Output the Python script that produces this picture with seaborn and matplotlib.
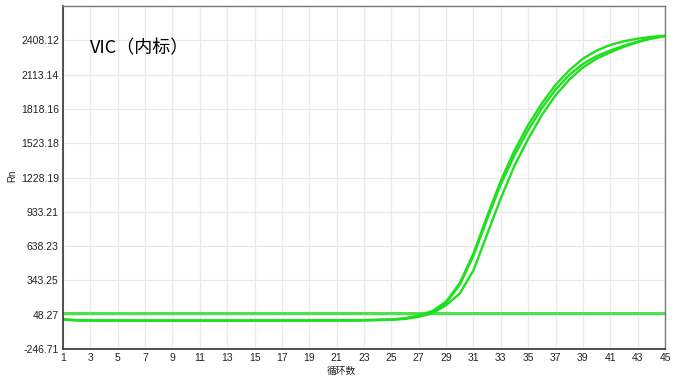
import numpy as np
import pandas as pd
import matplotlib
matplotlib.use("Agg")
import matplotlib.pyplot as plt
import seaborn as sns

cycles = list(range(1, 46))

# Fluorescence (Rn) values, cycles 1..45
well_a = [8, 2, 0, -1, -1, -2, -2, -2, -2, -2, -2, -2, -2, -2, -2, -1, -1, -1, -1, 0, 0, 1,
          2, 4, 8, 18, 40, 80, 160, 320, 575, 895, 1200, 1460, 1680, 1865, 2025, 2150, 2250,
          2320, 2368, 2400, 2422, 2438, 2448]
well_b = [6, 1, -1, -2, -2, -2, -3, -3, -3, -3, -3, -3, -3, -3, -2, -2, -2, -2, -2, -1, -1, 0,
          1, 3, 6, 15, 38, 75, 150, 305, 555, 870, 1170, 1420, 1635, 1825, 1985, 2110, 2205,
          2272, 2320, 2362, 2397, 2425, 2445]
well_c = [5, 0, -2, -3, -3, -3, -3, -3, -3, -3, -3, -3, -3, -3, -3, -3, -2, -2, -2, -2, -1, -1,
          0, 2, 5, 12, 30, 60, 130, 230, 430, 740, 1050, 1330, 1560, 1765, 1935, 2070, 2175,
          2250, 2305, 2352, 2392, 2423, 2445]
threshold = 60.0

ytick_values = [-246.71, 48.27, 343.25, 638.23, 933.21, 1228.19, 1523.18, 1818.16, 2113.14, 2408.12]
ytick_labels = ["-246.71", "48.27", "343.25", "638.23", "933.21", "1228.19", "1523.18",
                "1818.16", "2113.14", "2408.12"]
xtick_values = list(range(1, 46, 2))
y_top = 2703.09

df = pd.DataFrame({
    "cycle": cycles * 3,
    "rn": well_a + well_b + well_c,
    "well": ["A"] * 45 + ["B"] * 45 + ["C"] * 45,
})

sns.set_theme(style="white")
plt.rcParams["font.family"] = ["Liberation Sans", "DejaVu Sans"]

fig = plt.figure(figsize=(6.74, 3.80), dpi=100)
ax = fig.add_axes([63 / 674, 1 - 349 / 380, (665 - 63) / 674, (349 - 6) / 380])

green = "#1fe01f"
sns.lineplot(data=df, x="cycle", y="rn", units="well", estimator=None,
             color=green, linewidth=1.7, ax=ax, legend=False)
ax.axhline(threshold, color="#4ce24c", linewidth=2.2, zorder=1.5)

ax.set_xlim(1, 45)
ax.set_ylim(-246.71, y_top)
ax.set_xticks(xtick_values)
ax.set_xticklabels([str(v) for v in xtick_values])
ax.set_yticks(ytick_values)
ax.set_yticklabels(ytick_labels)
ax.tick_params(axis="both", length=0, labelsize=7.5, colors="#222222", pad=3)
ax.grid(True, color="#e9e9e9", linewidth=0.9)
ax.set_axisbelow(True)
ax.set_xlabel("")
ax.set_ylabel("")

for side in ["left", "bottom"]:
    ax.spines[side].set_color("#333333")
    ax.spines[side].set_linewidth(1.2)
for side in ["top", "right"]:
    ax.spines[side].set_color("#777777")
    ax.spines[side].set_linewidth(1.0)

ax.text(90 / 674, 1 - 48 / 380, "VIC（内标）", transform=fig.transFigure,
        fontsize=13, color="black", va="center", ha="left",
        family=["Noto Sans CJK SC", "DejaVu Sans"])
fig.text(341 / 674, 1 - 371 / 380, "循环数", fontsize=7, color="#222222",
         ha="center", va="center", family=["Noto Sans CJK SC", "DejaVu Sans"])
fig.text(12 / 674, 1 - 176 / 380, "Rn", fontsize=7, color="#222222", rotation=90,
         ha="center", va="center")

fig.savefig("out.png", dpi=100, facecolor="white")
